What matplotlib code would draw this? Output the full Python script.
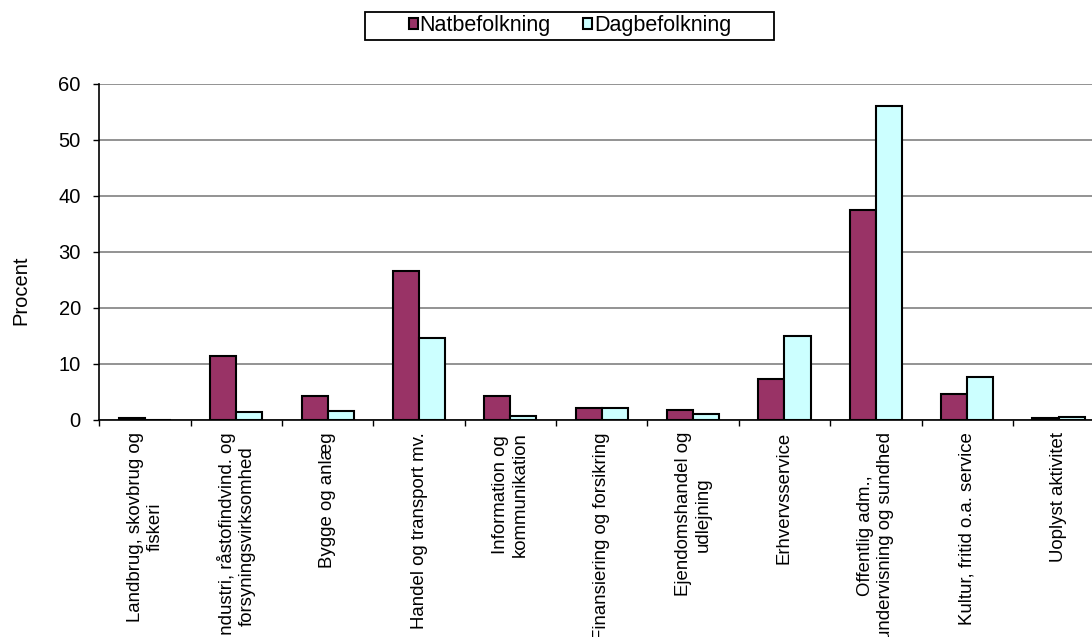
import numpy as np
import matplotlib.pyplot as plt
from matplotlib.patches import Rectangle

plt.rcParams['font.family'] = ['Liberation Sans', 'DejaVu Sans']

categories = ["Landbrug, skovbrug og\nfiskeri",
              "Industri, råstofindvind. og\nforsyningsvirksomhed",
              "Bygge og anlæg",
              "Handel og transport mv.",
              "Information og\nkommunikation",
              "Finansiering og forsikring",
              "Ejendomshandel og\nudlejning",
              "Erhvervsservice",
              "Offentlig adm.,\nundervisning og sundhed",
              "Kultur, fritid o.a. service",
              "Uoplyst aktivitet"]
natbefolkning = [0.2, 11.3, 4.2, 26.5, 4.2, 2.0, 1.75, 7.2, 37.4, 4.6, 0.3]
dagbefolkning = [0.0, 1.3, 1.6, 14.6, 0.6, 2.0, 1.0, 15.0, 56.0, 7.6, 0.4]
y_ticks = [0, 10, 20, 30, 40, 50, 60]


def main():
    fig = plt.figure(figsize=(10.92, 6.37), dpi=100)
    # plot area runs off the right edge like in the cropped original
    ax = fig.add_axes([0.0909, 0.3414, 0.9203, 0.5275])

    x = np.arange(len(categories))
    w = 1 / 3.5  # gap width 150 %
    ax.bar(x - w / 2, natbefolkning, w, color='#993366', edgecolor='black',
           linewidth=1.5, label='Natbefolkning', zorder=3)
    ax.bar(x + w / 2, dagbefolkning, w, color='#CCFFFF', edgecolor='black',
           linewidth=1.5, label='Dagbefolkning', zorder=3)

    ax.set_xlim(-0.5, len(categories) - 0.5)
    ax.set_ylim(0, 60)
    ax.set_yticks(y_ticks)
    ax.yaxis.grid(True, color='#808080', linewidth=1.2, zorder=0)

    ax.set_xticks(x)
    ax.set_xticklabels(categories, rotation=90, fontsize=13.4, linespacing=1.22,
                       ha='center', va='top')
    ax.set_xticks(np.arange(len(categories) + 1) - 0.5, minor=True)
    ax.tick_params(axis='x', which='major', length=0, pad=9)
    ax.tick_params(axis='x', which='minor', length=4, width=1)
    ax.tick_params(axis='y', length=4.3, width=1, pad=9, labelsize=14.5)

    for s in ['top', 'right']:
        ax.spines[s].set_visible(False)
    ax.spines['left'].set_linewidth(1.2)
    ax.spines['bottom'].set_linewidth(1.2)

    fig.text(21 / 1092, 1 - 290 / 637, 'Procent', rotation=90, fontsize=14.5,
             ha='center', va='center')

    leg = fig.legend(loc='center', bbox_to_anchor=(570 / 1092, 1 - 26 / 637),
                     ncol=2, fontsize=15.5, handlelength=0.42, handleheight=0.42,
                     handletextpad=0.08, columnspacing=1.5, frameon=False)
    for h in leg.legend_handles:
        h.set_linewidth(1.5)
    # Excel style legend box, wider than its content
    fig.patches.append(Rectangle((365 / 1092, 1 - 40 / 637), 409 / 1092, 28 / 637,
                                 transform=fig.transFigure, fill=False,
                                 edgecolor='black', linewidth=1.3))

    fig.savefig('out.png', dpi=100)


if __name__ == '__main__':
    main()
